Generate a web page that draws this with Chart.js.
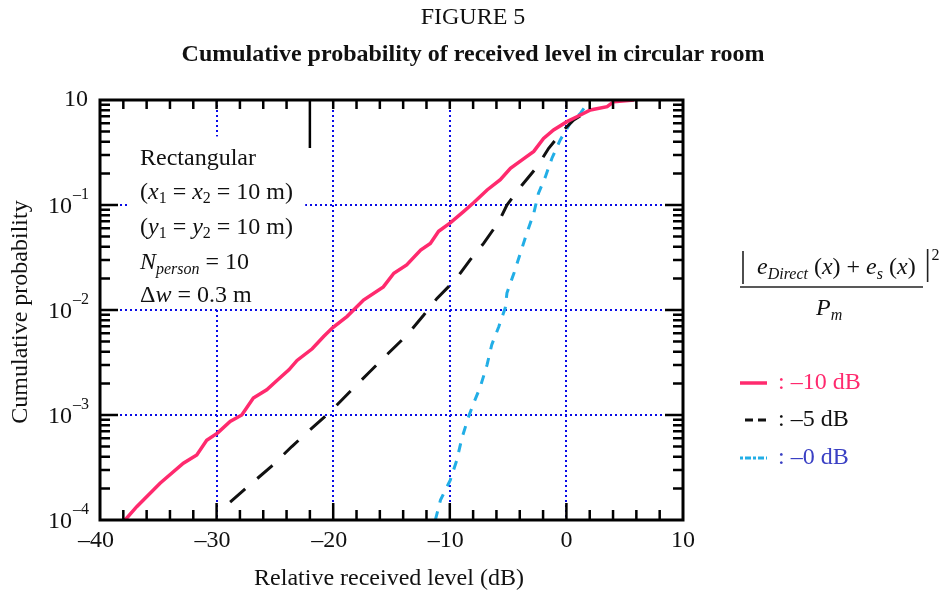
<!DOCTYPE html>
<html>
<head>
<meta charset="utf-8">
<title>Figure 5</title>
<script src="https://cdn.jsdelivr.net/npm/chart.js@4.4.1/dist/chart.umd.min.js"></script>
<style>
  html, body { margin: 0; padding: 0; background: #fff; }
  canvas { display: block; }
</style>
</head>
<body>
<canvas id="cumulChart" width="941" height="596"></canvas>
<script>
// values (x = relative received level in dB, y = cumulative probability)
const levelMinus10 = [-37.85, -36.85, -34.85, -32.85, -31.7, -30.85, -29.9, -28.84, -27.84, -26.85, -25.7, -24.8, -23.8, -23.1, -21.8, -20.8, -20.06, -18.8, -17.4, -15.7, -14.8, -13.7, -12.5, -11.67, -10.96, -9.96, -8.8, -7.96, -6.8, -5.67, -4.8, -3.8, -2.8, -1.96, -1.1, 0.05, 0.9, 2.06, 3.5, 4.06, 5.8];
const probMinus10 = [1.0e-4, 1.34e-4, 2.24e-4, 3.47e-4, 4.17e-4, 5.75e-4, 6.76e-4, 8.7e-4, 1.0e-3, 1.45e-3, 1.74e-3, 2.14e-3, 2.69e-3, 3.31e-3, 4.27e-3, 5.62e-3, 6.76e-3, 8.7e-3, 1.245e-2, 1.66e-2, 2.24e-2, 2.69e-2, 3.72e-2, 4.31e-2, 5.62e-2, 6.76e-2, 8.7e-2, 0.105, 0.139, 0.174, 0.224, 0.269, 0.324, 0.431, 0.518, 0.622, 0.693, 0.804, 0.863, 0.964, 1.0];

const levelMinus5 = [-28.84, -26.98, -25.3, -23.55, -21.97, -20.26, -18.4, -16.97, -15.25, -13.68, -12.25, -11.1, -9.5, -8.24, -7.1, -5.8, -5.1, -3.8, -2.5, -1.52, -0.23, 0.63, 1.78];
const probMinus5 = [1.48e-4, 2.24e-4, 3.24e-4, 5.01e-4, 7.24e-4, 1.07e-3, 1.74e-3, 2.51e-3, 3.89e-3, 5.75e-3, 8.91e-3, 1.29e-2, 1.95e-2, 3.02e-2, 4.31e-2, 6.92e-2, 0.1, 0.155, 0.232, 0.347, 0.518, 0.646, 0.776];

const levelMinus0 = [-11.24, -10.8, -9.96, -9.4, -8.96, -8.4, -7.96, -7.38, -6.8, -6.4, -5.8, -5.24, -5.1, -4.5, -3.95, -3.4, -2.8, -2.4, -1.8, -1.24, -0.53, 0.33, 1.2, 1.9];
const probMinus0 = [1.0e-4, 1.55e-4, 2.4e-4, 3.72e-4, 6.03e-4, 9.55e-4, 1.29e-3, 1.86e-3, 3.02e-3, 4.68e-3, 6.92e-3, 1.05e-2, 1.45e-2, 2.24e-2, 3.47e-2, 5.37e-2, 8.32e-2, 0.129, 0.186, 0.279, 0.417, 0.603, 0.746, 0.964];

const xTickLabels = ['–40', '–30', '–20', '–10', '0', '10'];
const xTickValues = [-40, -30, -20, -10, 0, 10];
const yTickValues = [1e-4, 1e-3, 1e-2, 1e-1, 1];
const yTickExponents = ['–4', '–3', '–2', '–1', ''];
const legendLabels = [': –10 dB', ': –5 dB', ': –0 dB'];

const SERIF = '"Liberation Serif", "Times New Roman", serif';
const RED = '#ff2a6e';
const BLUE_LINE = '#22aee6';
const GRID_BLUE = '#0a0ae6';

function pairs(xs, ys) {
    return xs.map((x, i) => ({ x: x, y: ys[i] }));
}

// draws a row of text pieces (font / vertical shift) one after another
function textRun(ctx, x, y, parts) {
    parts.forEach(p => {
        ctx.font = p.f;
        ctx.fillText(p.t, x, y + (p.dy || 0));
        x += ctx.measureText(p.t).width;
    });
    return x;
}

const decorPlugin = {
    id: 'decor',
    beforeDatasetsDraw(chart) {
        const ctx = chart.ctx;
        const xs = chart.scales.x, ys = chart.scales.y;
        // white panel behind the annotation text
        const x0 = xs.getPixelForValue(-37.6), x1 = xs.getPixelForValue(-22.4);
        const y0 = ys.getPixelForValue(0.45), y1 = ys.getPixelForValue(0.0106);
        ctx.save();
        ctx.fillStyle = '#fff';
        ctx.fillRect(x0, y0, x1 - x0, y1 - y0);

        ctx.fillStyle = '#111';
        ctx.textBaseline = 'middle';
        ctx.textAlign = 'left';
        const n = '24px ' + SERIF, it = 'italic 24px ' + SERIF;
        const sub = '16px ' + SERIF, itSub = 'italic 16px ' + SERIF;
        const tx = 140;
        textRun(ctx, tx, 159, [{ t: 'Rectangular', f: n }]);
        textRun(ctx, tx, 193, [{ t: '(', f: n }, { t: 'x', f: it }, { t: '1', f: sub, dy: 6 },
            { t: ' = ', f: n }, { t: 'x', f: it }, { t: '2', f: sub, dy: 6 }, { t: ' = 10 m)', f: n }]);
        textRun(ctx, tx, 228, [{ t: '(', f: n }, { t: 'y', f: it }, { t: '1', f: sub, dy: 6 },
            { t: ' = ', f: n }, { t: 'y', f: it }, { t: '2', f: sub, dy: 6 }, { t: ' = 10 m)', f: n }]);
        textRun(ctx, tx, 263, [{ t: 'N', f: it }, { t: 'person', f: itSub, dy: 7 }, { t: ' = 10', f: n }]);
        textRun(ctx, tx, 296, [{ t: 'Δ', f: n }, { t: 'w', f: it }, { t: ' = 0.3 m', f: n }]);
        ctx.restore();
    },
    afterDatasetsDraw(chart) {
        const ctx = chart.ctx;
        const xs = chart.scales.x, ys = chart.scales.y;
        const { left, right, top, bottom } = chart.chartArea;
        ctx.save();
        ctx.strokeStyle = '#000';
        ctx.lineWidth = 2.5;
        ctx.beginPath();
        // x ticks, inside, on bottom and top
        for (let v = -38; v <= 8; v += 2) {
            const px = xs.getPixelForValue(v);
            const major = v % 10 === 0;
            ctx.moveTo(px, bottom);
            ctx.lineTo(px, bottom - (major ? 17 : 10));
            ctx.moveTo(px, top);
            ctx.lineTo(px, top + (v === -22 ? 48 : 9));
        }
        // y ticks, inside, on left and right
        for (let d = -4; d <= 0; d++) {
            for (let m = 1; m <= 9; m++) {
                const v = m * Math.pow(10, d);
                if (v > 1 || (d === -4 && m === 1) || (d === 0 && m === 1)) continue;
                const py = ys.getPixelForValue(v);
                const len = m === 1 ? 18 : 10;
                ctx.moveTo(left, py);
                ctx.lineTo(left + len, py);
                ctx.moveTo(right, py);
                ctx.lineTo(right - len, py);
            }
        }
        ctx.stroke();
        ctx.lineWidth = 3;
        ctx.strokeRect(left, top, right - left, bottom - top);
        ctx.restore();
    },
    afterDraw(chart) {
        const ctx = chart.ctx;
        const xs = chart.scales.x, ys = chart.scales.y;
        ctx.save();
        ctx.fillStyle = '#111';
        ctx.textBaseline = 'middle';

        // titles
        ctx.textAlign = 'center';
        ctx.font = '24px ' + SERIF;
        ctx.fillText('FIGURE 5', 473, 18);
        ctx.font = 'bold 24px ' + SERIF;
        ctx.fillText('Cumulative probability of received level in circular room', 473, 55);

        // x tick labels
        ctx.font = '24px ' + SERIF;
        xTickValues.forEach((v, i) => {
            const off = xTickLabels[i].startsWith('–') ? -4 : 0;
            ctx.fillText(xTickLabels[i], xs.getPixelForValue(v) + off, 541);
        });

        // y tick labels with superscript exponents
        yTickValues.forEach((v, i) => {
            const py = ys.getPixelForValue(v);
            ctx.font = '24px ' + SERIF;
            if (yTickExponents[i] === '') {
                ctx.textAlign = 'right';
                ctx.fillText('10', 88, py);
            } else {
                ctx.textAlign = 'right';
                ctx.fillText('10', 72, py + 2);
                ctx.textAlign = 'left';
                ctx.font = '16px ' + SERIF;
                ctx.fillText(yTickExponents[i], 73, py - 10);
            }
        });

        // axis titles
        ctx.textAlign = 'center';
        ctx.font = '24px ' + SERIF;
        ctx.fillText('Relative received level (dB)', 389, 579);
        ctx.save();
        ctx.translate(21, 312);
        ctx.rotate(-Math.PI / 2);
        ctx.fillText('Cumulative probability', 0, 0);
        ctx.restore();

        // formula at right
        ctx.textAlign = 'left';
        const n = '24px ' + SERIF, it = 'italic 24px ' + SERIF;
        const itSub = 'italic 16px ' + SERIF, sup = '16px ' + SERIF;
        const endX = textRun(ctx, 757, 268, [
            { t: 'e', f: it }, { t: 'Direct', f: itSub, dy: 7 },
            { t: ' (', f: n }, { t: 'x', f: it }, { t: ') + ', f: n }, { t: 'e', f: it }, { t: 's', f: itSub, dy: 7 },
            { t: ' (', f: n }, { t: 'x', f: it }, { t: ')', f: n }
        ]);
        ctx.strokeStyle = '#222';
        ctx.lineWidth = 1.6;
        ctx.beginPath();
        ctx.moveTo(743, 251);
        ctx.lineTo(743, 284);
        ctx.moveTo(endX + 12, 249);
        ctx.lineTo(endX + 12, 282);
        ctx.stroke();
        textRun(ctx, endX + 16, 256, [{ t: '2', f: sup }]);
        ctx.lineWidth = 1.5;
        ctx.beginPath();
        ctx.moveTo(740, 287);
        ctx.lineTo(923, 287);
        ctx.stroke();
        textRun(ctx, 816, 309, [{ t: 'P', f: it }, { t: 'm', f: itSub, dy: 7 }]);

        // legend
        const rows = [383, 420, 458];
        const colors = [RED, '#111', '#3a40c4'];
        chart.data.datasets.slice(0, 3).forEach((ds, i) => {
            ctx.save();
            ctx.strokeStyle = ds.borderColor;
            ctx.lineWidth = ds.borderWidth;
            ctx.setLineDash(i === 0 ? [] : (i === 1 ? [8, 5] : [3, 2, 6, 2]));
            ctx.beginPath();
            ctx.moveTo(i === 1 ? 745 : 740, rows[i]);
            ctx.lineTo(767, rows[i]);
            ctx.stroke();
            ctx.restore();
            ctx.fillStyle = colors[i];
            ctx.font = n;
            ctx.fillText(legendLabels[i], 778, rows[i]);
        });
        ctx.restore();
    }
};

new Chart(document.getElementById('cumulChart'), {
    type: 'line',
    data: {
        datasets: [{
            label: '–10 dB',
            data: pairs(levelMinus10, probMinus10),
            borderColor: RED,
            borderWidth: 3.5
        }, {
            label: '–5 dB',
            data: pairs(levelMinus5, probMinus5),
            borderColor: '#111',
            borderWidth: 3,
            borderDash: [20, 16]
        }, {
            label: '–0 dB',
            data: pairs(levelMinus0, probMinus0),
            borderColor: BLUE_LINE,
            borderWidth: 3,
            borderDash: [9, 9]
        }]
    },
    options: {
        responsive: false,
        animation: false,
        devicePixelRatio: 1,
        layout: { padding: { left: 100, top: 100, right: 258, bottom: 76 } },
        elements: { point: { radius: 0 }, line: { tension: 0 } },
        plugins: { legend: { display: false }, tooltip: { enabled: false } },
        scales: {
            x: {
                type: 'linear',
                min: -40,
                max: 10,
                ticks: { display: false, stepSize: 10 },
                grid: {
                    drawTicks: false,
                    lineWidth: 2,
                    color: c => (c.tick && (c.tick.value === -40 || c.tick.value === 10)) ? 'rgba(0,0,0,0)' : GRID_BLUE
                },
                border: { display: false, dash: [2, 3] }
            },
            y: {
                type: 'logarithmic',
                min: 1e-4,
                max: 1,
                afterBuildTicks: scale => { scale.ticks = yTickValues.map(v => ({ value: v })); },
                ticks: { display: false },
                grid: {
                    drawTicks: false,
                    lineWidth: 2,
                    color: c => (c.tick && (c.tick.value === 1e-4 || c.tick.value === 1)) ? 'rgba(0,0,0,0)' : GRID_BLUE
                },
                border: { display: false, dash: [2, 3] }
            }
        }
    },
    plugins: [decorPlugin]
});
</script>
</body>
</html>
